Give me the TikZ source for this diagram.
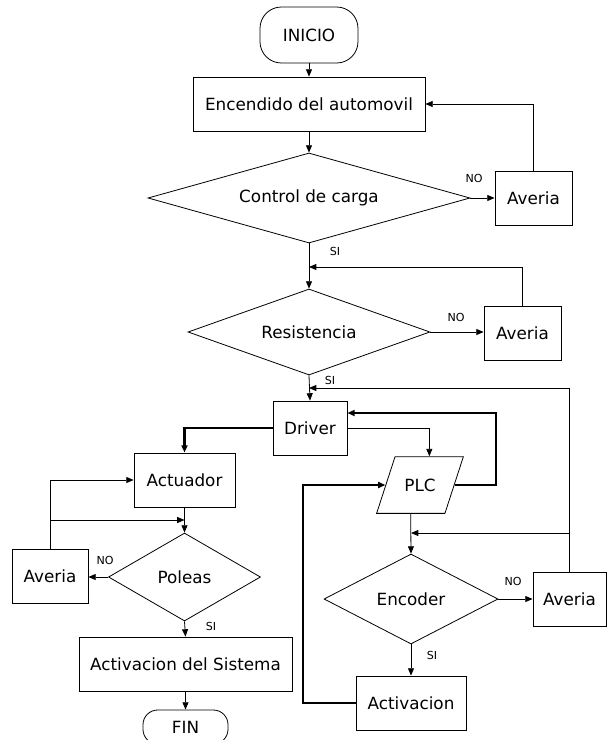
\documentclass[tikz,border=0pt]{standalone}
\usepackage{fontspec}
\setmainfont{DejaVu Sans}
\usetikzlibrary{shapes.geometric,arrows.meta}

\tikzset{
  bloque/.style={draw, rectangle, minimum height=40.5pt, inner sep=2pt},
  decision/.style={draw, diamond, aspect=3, inner sep=0pt},
  terminal/.style={draw, rectangle, rounded corners=16pt, inner sep=2pt},
  entrada/.style={draw, trapezium, trapezium left angle=72, trapezium right angle=108,
    trapezium stretches=false, inner xsep=7pt, inner ysep=16.5pt},
  etiqueta/.style={font=\fontsize{8.3}{10}\selectfont, inner sep=0pt},
  grueso/.style={line width=1.8pt}
}

\begin{document}
\begin{tikzpicture}[x=0.75pt, y=-0.75pt, line width=0.6pt,
    >={Triangle[length=5.5pt,width=4.5pt]},
    font=\fontsize{12.6}{15}\selectfont]
    \clip (0,0) rectangle (607,740);

    %% Junction points of the return lines
    \coordinate (j1) at (309,267);
    \coordinate (j2) at (309,388);
    \coordinate (j3) at (411,533);
    \coordinate (j4) at (184.5,520);
    \coordinate (c1) at (496,413);
    \coordinate (c2) at (303,485);

    %% Main column
    \node[terminal, minimum width=73.5pt, minimum height=42pt] (ini) at (309,35) {INICIO};
    \node[bloque, minimum width=174pt] (enc) at (309,104) {Encendido del automovil};
    \node[decision, minimum width=241.5pt, minimum height=67.5pt] (ctl) at (309,198) {Control de carga};
    \node[bloque, minimum width=57.75pt] (av1) at (533.5,198.5) {Averia};
    \node[decision, minimum width=181.5pt, minimum height=64.5pt] (res) at (309,332) {Resistencia};
    \node[bloque, minimum width=57.75pt] (av2) at (522.5,333) {Averia};
    \node[bloque, minimum width=55.5pt] (drv) at (310,428) {Driver};

    %% Left branch
    \node[bloque, minimum width=75.75pt] (act) at (184.5,480) {Actuador};
    \node[decision, minimum width=114pt, minimum height=66pt] (pol) at (184.5,577) {Poleas};
    \node[bloque, minimum width=57pt] (av4) at (50,576) {Averia};
    \node[bloque, minimum width=159.75pt] (sis) at (185.5,664) {Activacion del Sistema};
    \node[terminal, minimum width=63.75pt, minimum height=25.5pt, rounded corners=11pt] (fin) at (185.5,727) {FIN};

    %% Right branch
    \node[entrada] (plc) at (420,485) {PLC};
    \node[decision, minimum width=130.5pt, minimum height=67.5pt] (ecd) at (411,599) {Encoder};
    \node[bloque, minimum width=54.75pt] (av3) at (569.5,599) {Averia};
    \node[bloque, minimum width=82.5pt] (atv) at (411,703) {Activacion};

    %% Yes / no labels
    \node[etiqueta] (no1) at (474,178) {NO};
    \node[etiqueta] (si1) at (335,251) {SI};
    \node[etiqueta] (no2) at (456,317) {NO};
    \node[etiqueta] (si2) at (330,380) {SI};
    \node[etiqueta] (no3) at (105,560) {NO};
    \node[etiqueta] (si3) at (211,626) {SI};
    \node[etiqueta] (no4) at (513,581) {NO};
    \node[etiqueta] (si4) at (432,655) {SI};

    %% Connectors
    \draw[->] (ini) -- (enc);
    \draw[->] (enc) -- (ctl);
    \draw[->] (ctl.east) -- (ctl.east -| av1.west);
    \draw[->] (av1.north) |- (enc.east);
    \draw[->] (ctl.south) -- (res.north);
    \draw[->] (res.east) -- (res.east -| av2.west);
    \draw[->] (av2.north) |- (j1);
    \draw[->] (res.south) -- (drv.north);
    \draw[->] (av3.north) |- (j2);
    \draw[->] (av3.north |- j3) -- (j3);

    \draw[->, grueso] (drv.west) -| (act.north);
    \draw[->] (act.south) -- (pol.north);
    \draw[->] (av4.north) |- (act.west);
    \draw[->] (av4.north |- j4) -- (j4);
    \draw[->] (pol.west) -- (pol.west -| av4.east);
    \draw[->] (pol.south) -- (sis.north);
    \draw[->] (sis.south) -- (fin.north);

    \draw[->] (drv.east) -| (plc.top side);
    \draw[->, grueso] (plc.right side) -| (c1) -- (drv.east |- c1);
    \draw[->, grueso] (atv.west) -| (c2) -- (plc.left side);
    \draw[->] (plc.bottom side) -- (ecd.north);
    \draw[->] (ecd.east) -- (ecd.east -| av3.west);
    \draw[->] (ecd.south) -- (atv.north);
\end{tikzpicture}
\end{document}
